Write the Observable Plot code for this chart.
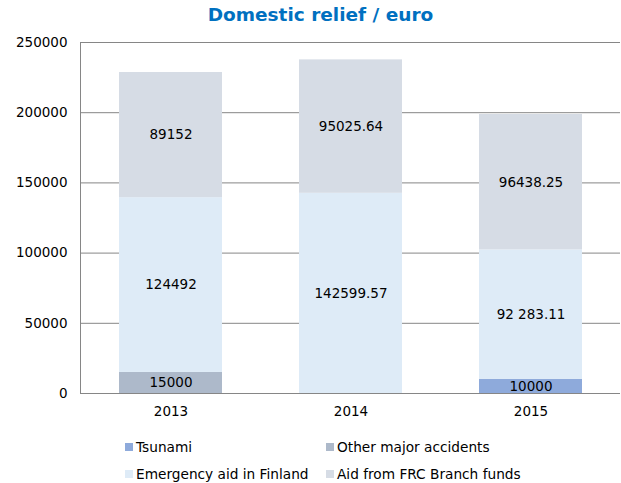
<!DOCTYPE html>
<html>
<head>
<meta charset="utf-8">
<script src="https://cdn.jsdelivr.net/npm/d3@7"></script>
<script src="https://cdn.jsdelivr.net/npm/@observablehq/plot@0.6"></script>
<style>
  body { margin: 0; background: #fff; font-family: "DejaVu Sans", Verdana, sans-serif; }
  #wrap { position: relative; width: 621px; height: 483px; overflow: hidden; }
  #title { position: absolute; top: 3px; left: 10px; width: 621px; text-align: center;
           font-weight: bold; font-size: 18.5px; color: #0070c0; line-height: 24px; }
  #chart { position: absolute; top: 32px; left: 0; }
  .leg { position: absolute; font-size: 13.7px; color: #000; line-height: 16px; white-space: nowrap; }
  .sw { display: inline-block; width: 8px; height: 8px; margin-right: 3px; vertical-align: 1px; }
</style>
</head>
<body>
<div id="wrap">
  <div id="title">Domestic relief / euro</div>
  <div id="chart"></div>
  <div id="legend"></div>
</div>
<script>
const years = ["2013", "2014", "2015"];
const series = ["Tsunami", "Other major accidents", "Emergency aid in Finland", "Aid from FRC Branch funds"];
const tsunami = [0, 0, 10000];
const otherAccidents = [15000, 0, 0];
const emergencyAid = [124492, 142599.57, 92283.11];
const frcBranch = [89152, 95025.64, 96438.25];
const tsunamiLabels = ["", "", "10000"];
const otherLabels = ["15000", "", ""];
const emergencyLabels = ["124492", "142599.57", "92 283.11"];
const frcLabels = ["89152", "95025.64", "96438.25"];
const yTicks = [0, 50000, 100000, 150000, 200000, 250000];
const colors = ["#8eaadb", "#adb9ca", "#deebf7", "#d6dce5"];

const valuesBySeries = [tsunami, otherAccidents, emergencyAid, frcBranch];
const labelsBySeries = [tsunamiLabels, otherLabels, emergencyLabels, frcLabels];
const data = [];
series.forEach((s, i) => {
  years.forEach((y, j) => {
    data.push({ year: y, series: s, value: valuesBySeries[i][j], label: labelsBySeries[i][j] });
  });
});

const chart = Plot.plot({
  width: 621,
  height: 392,
  marginTop: 10,
  marginBottom: 31,
  marginLeft: 80,
  marginRight: 1,
  style: { fontFamily: "DejaVu Sans, Verdana, sans-serif", fontSize: "13.5px", color: "#000", background: "#fff" },
  x: { domain: years, paddingInner: 0.43, paddingOuter: 0.215, label: null },
  y: { domain: [0, 250000], label: null },
  color: { domain: series, range: colors },
  marks: [
    Plot.gridY(yTicks, { stroke: "#868686", strokeOpacity: 1, strokeWidth: 1 }),
    Plot.barY(data, Plot.stackY({ x: "year", y: "value", fill: "series", z: "series", order: series })),
    Plot.text(data, Plot.stackY({ x: "year", y: "value", z: "series", order: series, text: "label", fill: "#000", fontSize: 13.5 })),
    Plot.frame({ anchor: "left", stroke: "#868686" }),
    Plot.axisY(yTicks, { tickSize: 0, tickPadding: 13, tickFormat: d => String(d), fontSize: 13.5 }),
    Plot.axisX({ tickSize: 0, tickPadding: 13, fontSize: 13.5 })
  ]
});
document.getElementById("chart").appendChild(chart);

const legend = document.getElementById("legend");
const legPos = [[125, 439], [326, 439], [125, 466], [326, 466]];
series.forEach((s, i) => {
  const d = document.createElement("div");
  d.className = "leg";
  d.style.left = legPos[i][0] + "px";
  d.style.top = legPos[i][1] + "px";
  d.innerHTML = `<span class="sw" style="background:${colors[i]}"></span>${s}`;
  legend.appendChild(d);
});
</script>
</body>
</html>
